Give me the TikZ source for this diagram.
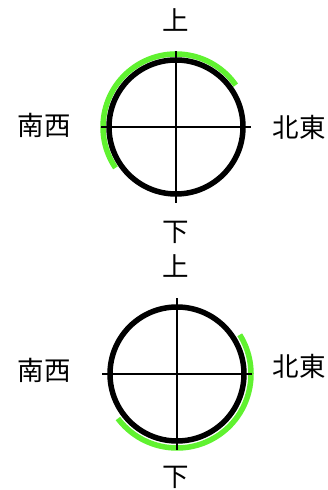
\documentclass[tikz,border=0pt]{standalone}
\usepackage{fontspec}
\newfontfamily\cjk{Noto Sans CJK JP}
\usepackage{xcolor}
\usepackage{tikz}
\usetikzlibrary{positioning,calc}

\definecolor{arcgreen}{RGB}{96,242,48}

\begin{document}
\begin{tikzpicture}[
        x=1pt, y=1pt,
        dir/.style={font=\cjk\fontsize{26.5}{26.5}\selectfont, inner sep=0pt},
        ring/.style={draw=black, line width=5.5pt},
        axis/.style={draw=black, line width=1.5pt},
        mark arc/.style={draw=arcgreen, line width=5.5pt},
    ]
        \useasboundingbox (0,0) rectangle (328,490);

        % upper dial
        \coordinate (topc) at (176,363);
        \draw[mark arc] (topc) ++(35:73) arc[start angle=35, end angle=214, radius=73];
        \draw[axis] ($(topc)+(-75,0)$) -- ($(topc)+(75,0)$);
        \draw[axis] ($(topc)+(0,-76)$) -- ($(topc)+(0,76)$);
        \draw[ring] (topc) circle[radius=67];
        \node[dir] (topup) at (176,470) {上};
        \node[dir] (topdown) at (176,258) {下};
        \node[dir] (topsw) at (44,365) {南西};
        \node[dir] (topne) at (299,363) {北東};

        % lower dial
        \coordinate (botc) at (177,116);
        \draw[mark arc] (botc) ++(32:74) arc[start angle=32, end angle=-143, radius=74];
        \draw[axis] ($(botc)+(-75,0)$) -- ($(botc)+(75,0)$);
        \draw[axis] ($(botc)+(0,-76)$) -- ($(botc)+(0,76)$);
        \draw[ring] (botc) circle[radius=67];
        \node[dir] (botup) at (176,224) {上};
        \node[dir] (botdown) at (176,13) {下};
        \node[dir] (botsw) at (44,120) {南西};
        \node[dir] (botne) at (299,124) {北東};

    \end{tikzpicture}
\end{document}
